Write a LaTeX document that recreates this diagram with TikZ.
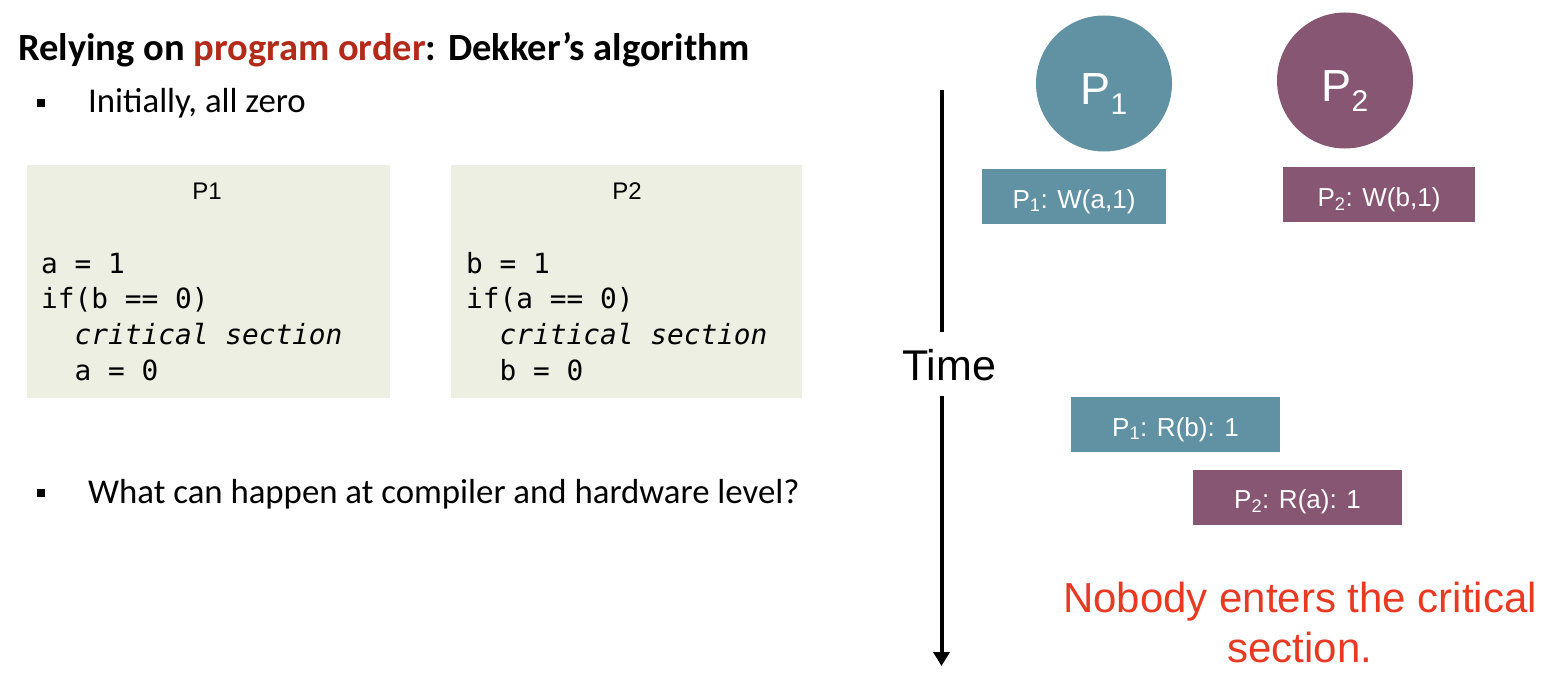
\documentclass[tikz,border=0pt]{standalone}
\usepackage{fontspec}
\setmainfont{Liberation Sans}
\newfontfamily\calfont{Carlito}
\newfontfamily\codefont{DejaVu Sans Mono}
\usetikzlibrary{arrows.meta}
\definecolor{teal1}{RGB}{96,146,163}
\definecolor{plum1}{RGB}{135,86,114}
\definecolor{codebg}{RGB}{236,239,226}
\definecolor{titlered}{RGB}{178,42,26}
\definecolor{alertred}{RGB}{232,58,34}
\newcommand{\bigsub}[1]{\raisebox{-10pt}{\fontsize{30}{30}\selectfont #1}}
\tikzset{
  codebox/.style={fill=codebg, draw=none, inner sep=0pt},
  codeline/.style={anchor=base west, inner sep=0pt, font=\codefont\fontsize{27.8}{30}\selectfont},
  codehead/.style={anchor=base, inner sep=0pt, font=\fontsize{24}{28}\selectfont},
  bulletsq/.style={fill=black, minimum size=7.5pt, inner sep=0pt},
  bullettext/.style={anchor=base west, inner sep=0pt, font=\calfont\fontsize{34.8}{40}\selectfont},
  proc/.style={circle, minimum size=136pt, inner sep=0pt, text=white, text height=41pt, text depth=0pt, font=\fontsize{45}{50}\selectfont},
  evt/.style={minimum height=55pt, inner sep=0pt, text=white, text height=23pt, text depth=0pt, font=\fontsize{26}{30}\selectfont},
  timeline/.style={line width=4pt},
  alerttext/.style={anchor=base, inner sep=0pt, text=alertred, font=\fontsize{42}{50}\selectfont}
}
\begin{document}
\begin{tikzpicture}[x=1pt,y=-1pt]
\useasboundingbox (0,0) rectangle (1563,677);
% title
\node[anchor=base west, inner sep=0pt, font=\calfont\bfseries\fontsize{38.5}{44}\selectfont] (title) at (18,61)
  {Relying on \textcolor{titlered}{program order}: Dekker’s algorithm};
% bullet 1
\node[bulletsq] (b1) at (41,103) {};
\node[bullettext] (t1) at (88,112) {Initially, all zero};
% code boxes
\node[codebox, minimum width=363pt, minimum height=233pt] (box1) at (208.5,281.5) {};
\node[codebox, minimum width=351pt, minimum height=233pt] (box2) at (626.5,281.5) {};
\node[codehead] (h1) at (207,199) {P1};
\node[codehead] (h2) at (627,199) {P2};
\node[codeline] (c11) at (41,273) {a = 1};
\node[codeline] (c12) at (41,308) {if(b == 0)};
\node[codeline] (c13) at (41,344) {\itshape\ \ critical section};
\node[codeline] (c14) at (41,380) {\ \ a = 0};
\node[codeline] (c21) at (466,273) {b = 1};
\node[codeline] (c22) at (466,308) {if(a == 0)};
\node[codeline] (c23) at (466,344) {\itshape\ \ critical section};
\node[codeline] (c24) at (466,380) {\ \ b = 0};
% bullet 2
\node[bulletsq] (b2) at (41,493) {};
\node[bullettext] (t2) at (88,503) {What can happen at compiler and hardware level?};
% time axis
\coordinate (ttop) at (941.5,90);
\coordinate (tbot) at (941.5,666);
\node[anchor=base, inner sep=0pt, font=\fontsize{43}{48}\selectfont] (time) at (949,380) {Time};
\draw[timeline] (ttop) -- (941.5,332);
\draw[timeline, -{Triangle[width=16pt,length=14pt]}] (941.5,396) -- (tbot);
% processes
\node[proc, fill=teal1] (p1) at (1104,83.5) {P\bigsub{1}};
\node[proc, fill=plum1] (p2) at (1345,80.5) {P\bigsub{2}};
% events
\node[evt, fill=teal1, minimum width=184pt] (w1) at (1074,196.5) {P\textsubscript{1}: W(a,1)};
\node[evt, fill=plum1, minimum width=192pt] (w2) at (1379,194.5) {P\textsubscript{2}: W(b,1)};
\node[evt, fill=teal1, minimum width=209pt] (r1) at (1175.5,424.5) {P\textsubscript{1}: R(b): 1};
\node[evt, fill=plum1, minimum width=209pt] (r2) at (1297.5,497) {P\textsubscript{2}: R(a): 1};
% conclusion
\node[alerttext] (concl1) at (1300,612) {Nobody enters the critical};
\node[alerttext] (concl2) at (1300,662) {section.};
\end{tikzpicture}
\end{document}
